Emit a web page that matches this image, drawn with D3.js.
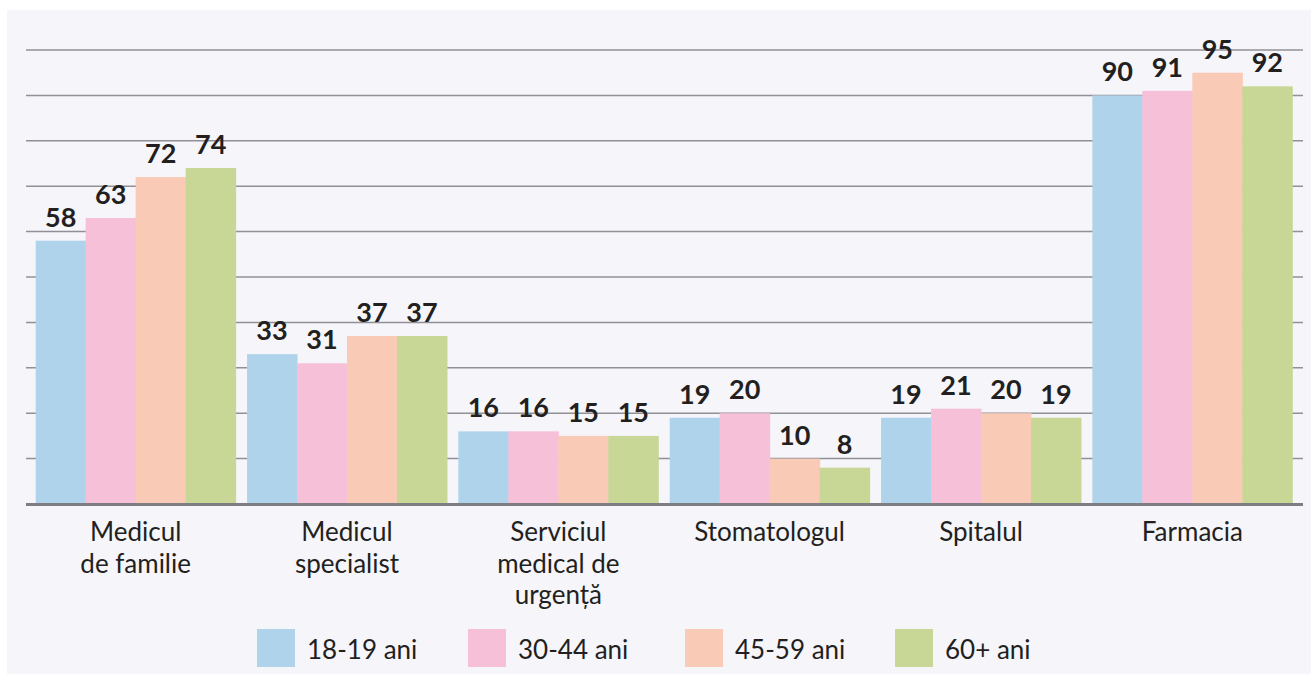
<!DOCTYPE html>
<html><head><meta charset="utf-8">
<script src="https://cdn.jsdelivr.net/npm/d3@7"></script>
<style>
html,body{margin:0;padding:0;background:#fff;}
svg{display:block;}
</style></head>
<body>
<svg id="chart" width="1311" height="675"></svg>
<script>
const categories = [["Medicul","de familie"],["Medicul","specialist"],["Serviciul","medical de","urgență"],["Stomatologul"],["Spitalul"],["Farmacia"]];
const seriesNames = ["18-19 ani","30-44 ani","45-59 ani","60+ ani"];
const s1819 = [58,33,16,19,19,90];
const s3044 = [63,31,16,20,21,91];
const s4559 = [72,37,15,10,20,95];
const s60   = [74,37,15,8,19,92];
const yTicks = [10,20,30,40,50,60,70,80,90,100];
const colors = ["#b0d3ec","#f6c0d9","#f9cab5","#c8d796"];

const series = [s1819,s3044,s4559,s60];
const svg = d3.select("#chart");
const FONT = "Lato, 'Open Sans', sans-serif";
const TXT = "#231f20";

svg.append("rect").attr("x",7).attr("y",10).attr("width",1304).attr("height",664).attr("fill","#f5f5fa");

const x0 = d3.scaleBand().domain(d3.range(categories.length)).range([30,1298]).paddingInner(0.054).paddingOuter(0.027);
const x1 = d3.scaleBand().domain(d3.range(seriesNames.length)).range([0,x0.bandwidth()]);
const y = d3.scaleLinear().domain([0,100]).range([504,50]);

svg.append("g").selectAll("line").data(yTicks).join("line")
  .attr("x1",26).attr("x2",1303).attr("y1",d=>y(d)).attr("y2",d=>y(d))
  .attr("stroke","#909096").attr("stroke-width",1.5);

const groups = svg.append("g").selectAll("g").data(categories).join("g")
  .attr("transform",(d,i)=>`translate(${x0(i)},0)`);

groups.selectAll("rect").data((d,i)=>series.map((s,j)=>({j,v:s[i]}))).join("rect")
  .attr("x",d=>x1(d.j)).attr("width",x1.bandwidth()+0.5)
  .attr("y",d=>y(d.v)).attr("height",d=>y(0)-y(d.v))
  .attr("fill",d=>colors[d.j]);

groups.selectAll("text.val").data((d,i)=>series.map((s,j)=>({j,v:s[i]}))).join("text")
  .attr("class","val")
  .attr("x",d=>x1(d.j)+x1.bandwidth()/2).attr("y",d=>y(d.v)-14)
  .attr("text-anchor","middle").attr("font-family",FONT).attr("font-weight","bold")
  .attr("font-size",27).attr("fill",TXT).text(d=>d.v);

// axis
svg.append("line").attr("x1",26).attr("x2",1303).attr("y1",y(0)+0.5).attr("y2",y(0)+0.5)
  .attr("stroke","#7d7d83").attr("stroke-width",3);

// category labels
const cat = svg.append("g").selectAll("text").data(categories).join("text")
  .attr("x",(d,i)=>x0(i)+x0.bandwidth()/2).attr("y",541)
  .attr("text-anchor","middle").attr("font-family",FONT).attr("font-size",26).attr("fill",TXT);
cat.selectAll("tspan").data(d=>d).join("tspan")
  .attr("x",function(){return this.parentNode.getAttribute("x");})
  .attr("dy",(d,i)=>i===0?0:31.5).text(d=>d);

// legend
const legX = [257,468,685,895];
const leg = svg.append("g").selectAll("g").data(seriesNames).join("g")
  .attr("transform",(d,i)=>`translate(${legX[i]},629)`);
leg.append("rect").attr("width",38).attr("height",38).attr("fill",(d,i)=>colors[i]);
leg.append("text").attr("x",50).attr("y",30).attr("font-family",FONT).attr("font-size",26)
  .attr("fill",TXT).text(d=>d);
</script>
</body></html>
